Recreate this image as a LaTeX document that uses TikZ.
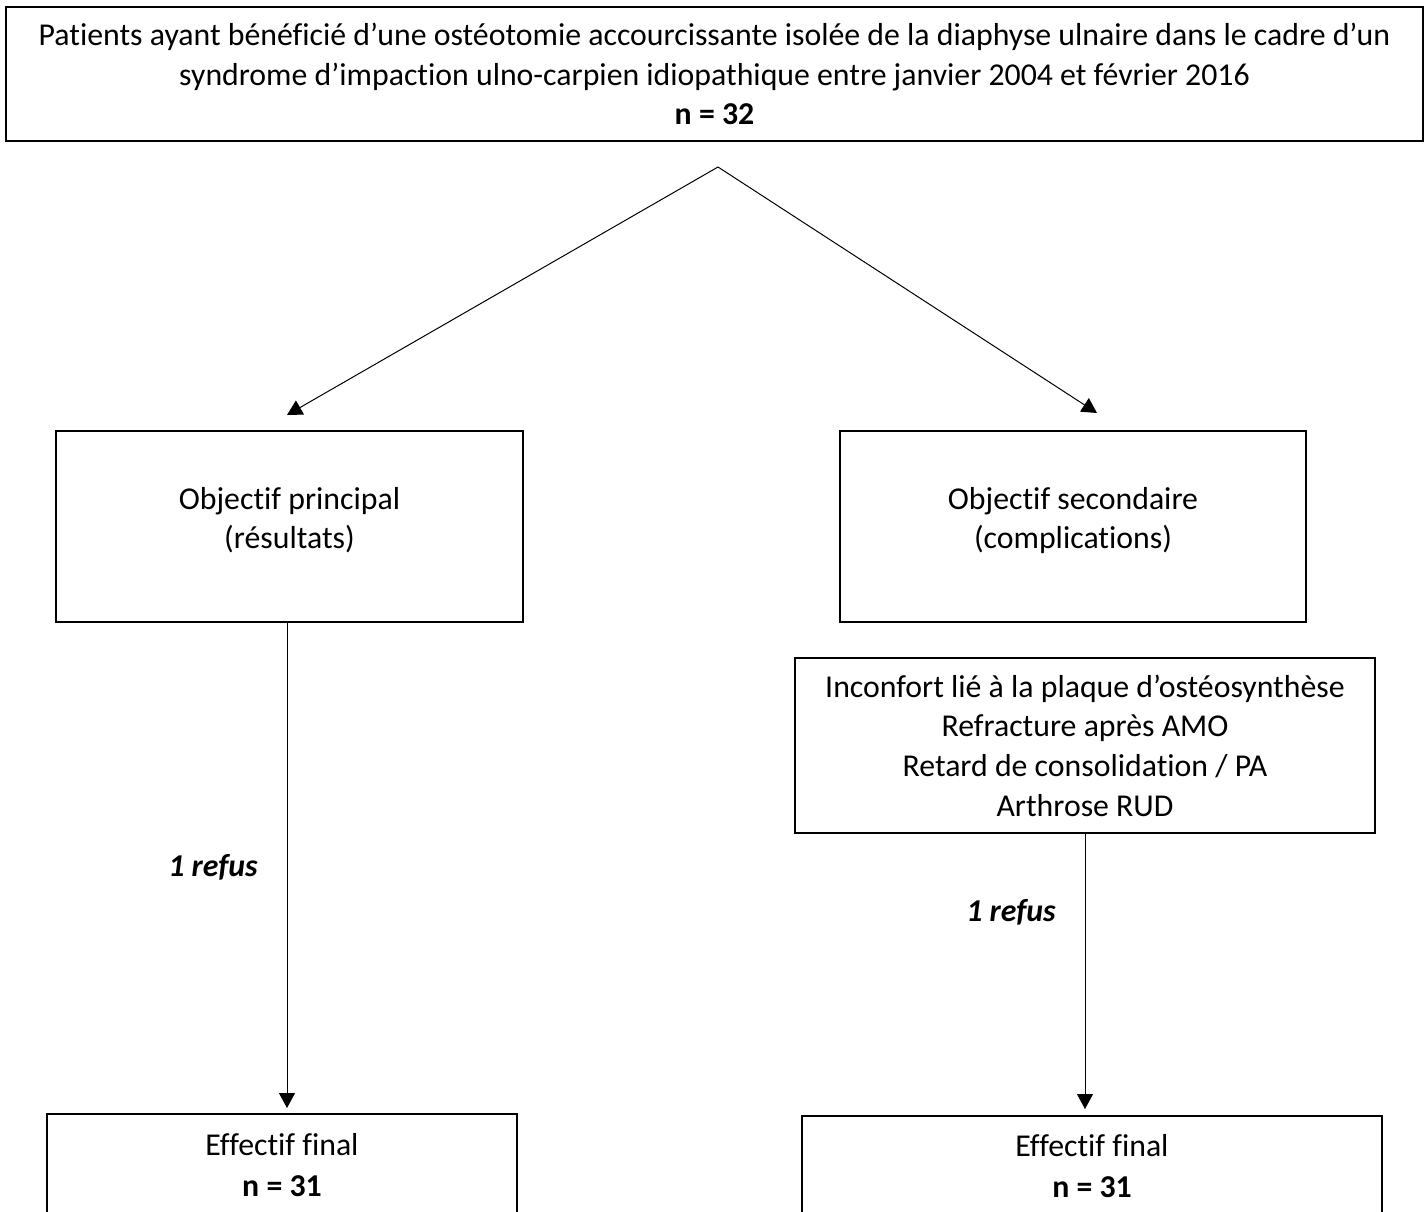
\documentclass[tikz,border=0pt]{standalone}
\usepackage{fontspec}
\setmainfont{Carlito}[Ligatures=NoCommon]
\usetikzlibrary{arrows.meta}
\tikzset{
  x=0.5pt, y=-0.5pt,
  box/.style={draw, line width=1pt, inner sep=0pt, outer sep=0pt, align=center,
    font=\fontsize{15.9}{19.8}\selectfont},
  txt/.style={inner sep=0pt, align=center, font=\fontsize{15.9}{19.6}\selectfont},
  refus/.style={inner sep=0pt, font=\fontsize{15.9}{19.6}\selectfont\bfseries\itshape},
  conn/.style={line width=0.5pt, -{Triangle[length=7.5pt,width=8pt]}},
}
\begin{document}
\begin{tikzpicture}
\useasboundingbox (0,0) rectangle (1425,1211);
\clip (0,0) rectangle (1425,1211);
\fill[white] (0,0) rectangle (1425,1211);

% top box
\node[box, minimum width=708.5pt, minimum height=67pt] (top) at (714.5,74)
  {Patients ayant bénéficié d’une ostéotomie accourcissante isolée de la diaphyse ulnaire dans le cadre d’un\\
   syndrome d’impaction ulno-carpien idiopathique entre janvier 2004 et février 2016\\
   \textbf{n = 32}};

% objective boxes
\node[box, minimum width=233.5pt, minimum height=95.5pt] (obj1) at (289.5,526.5) {};
\node[txt] (obj1t) at ([yshift=3pt]obj1.center) {Objectif principal\\(résultats)};
\node[box, minimum width=233pt, minimum height=95.5pt] (obj2) at (1073,526.5) {};
\node[txt] (obj2t) at ([yshift=3pt]obj2.center) {Objectif secondaire\\(complications)};

% complications box
\node[box, minimum width=290pt, minimum height=87.5pt] (compl) at (1085,745.5)
  {Inconfort lié à la plaque d’ostéosynthèse\\Refracture après AMO\\Retard de consolidation / PA\\Arthrose RUD};

% final boxes (cut by the page bottom)
\node[box, minimum width=235pt, minimum height=80pt] (fin1) at (282,1194) {};
\node[txt] (fin1t) at (282,1165) {Effectif final\\[1pt]\textbf{n = 31}};
\node[box, minimum width=290pt, minimum height=80pt] (fin2) at (1092,1196) {};
\node[txt] (fin2t) at (1092,1166) {Effectif final\\[1pt]\textbf{n = 31}};

% refusal labels
\node[refus] (r1) at (213,867) {1 refus};
\node[refus] (r2) at (1011,912) {1 refus};

% connectors
\coordinate (apex) at (718,167);
\coordinate (tipL) at (287,415);
\coordinate (tipR) at (1097,413);
\draw[conn] (apex) -- (tipL);
\draw[conn] (apex) -- (tipR);
\draw[conn, shorten >=3pt] ([xshift=-1.25pt]obj1.south) -- ([xshift=-1.25pt]obj1.south |- fin1.north);
\draw[conn, shorten >=3.5pt] (compl.south) -- (compl.south |- fin2.north);
\end{tikzpicture}
\end{document}
